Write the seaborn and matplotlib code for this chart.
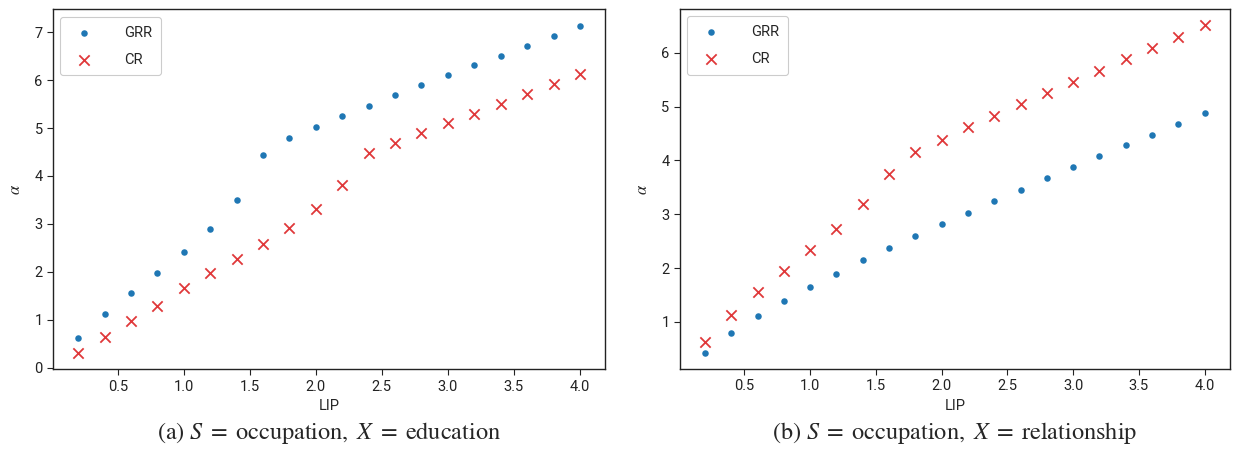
"""Side-by-side scatter of alpha vs. LIP for GRR and CR, two attribute pairs."""
import matplotlib
matplotlib.use("Agg")
import matplotlib.pyplot as plt
import pandas as pd
import seaborn as sns

LIP = [0.2, 0.4, 0.6, 0.8, 1.0, 1.2, 1.4, 1.6, 1.8, 2.0,
       2.2, 2.4, 2.6, 2.8, 3.0, 3.2, 3.4, 3.6, 3.8, 4.0]

# (a) S = occupation, X = education
GRR_A = [0.62, 1.12, 1.56, 1.97, 2.41, 2.90, 3.49, 4.43, 4.79, 5.02,
         5.25, 5.46, 5.69, 5.90, 6.10, 6.31, 6.51, 6.71, 6.92, 7.13]
CR_A = [0.31, 0.65, 0.97, 1.30, 1.66, 1.97, 2.28, 2.59, 2.92, 3.31,
        3.81, 4.48, 4.69, 4.89, 5.10, 5.30, 5.51, 5.71, 5.92, 6.12]

# (b) S = occupation, X = relationship
GRR_B = [0.43, 0.80, 1.11, 1.39, 1.64, 1.89, 2.15, 2.38, 2.59, 2.81,
         3.03, 3.25, 3.46, 3.67, 3.88, 4.08, 4.29, 4.47, 4.68, 4.88]
CR_B = [0.63, 1.13, 1.55, 1.94, 2.33, 2.72, 3.19, 3.74, 4.15, 4.38,
        4.62, 4.82, 5.05, 5.26, 5.46, 5.67, 5.88, 6.09, 6.30, 6.51]

CAPTIONS = [r"(a) $S\;=\;$occupation, $\,X\;=\;$education",
            r"(b) $S\;=\;$occupation, $\,X\;=\;$relationship"]

BLUE = "#1f77b4"
RED = "#e0383a"

sns.set_theme(style="ticks")
plt.rcParams["font.family"] = ["Roboto", "DejaVu Sans"]
plt.rcParams["mathtext.fontset"] = "stix"

fig = plt.figure(figsize=(12.33, 4.51), dpi=100)
axes = [fig.add_axes([0.043, 0.181, 0.4477, 0.798]),
        fig.add_axes([0.5515, 0.182, 0.4457, 0.798])]

panels = [(GRR_A, CR_A), (GRR_B, CR_B)]
for ax, (grr, cr), caption in zip(axes, panels, CAPTIONS):
    df = pd.DataFrame({"LIP": LIP, "GRR": grr, "CR": cr})
    sns.scatterplot(data=df, x="LIP", y="GRR", ax=ax, color=BLUE,
                    marker="o", s=22, linewidth=0, label="GRR")
    sns.scatterplot(data=df, x="LIP", y="CR", ax=ax, color=RED,
                    marker="x", s=55, linewidth=1.3, label="CR")
    ax.set_xlabel("LIP", fontsize=10.5, labelpad=4)
    ax.set_ylabel(r"$\alpha$", fontsize=12, labelpad=8)
    ax.tick_params(labelsize=10.5, length=4, width=0.8, colors="#222222")
    ax.set_xticks([0.5, 1.0, 1.5, 2.0, 2.5, 3.0, 3.5, 4.0])
    for sp in ax.spines.values():
        sp.set_linewidth(1.0)
        sp.set_color("#222222")
    leg = ax.legend(loc="upper left", fontsize=10.5, handletextpad=1.8,
                    borderpad=0.6, labelspacing=0.9, frameon=True,
                    fancybox=True, edgecolor="#cccccc", framealpha=1)
    leg.get_frame().set_linewidth(0.8)
    ax.text(0.5, -0.178, caption, transform=ax.transAxes, ha="center",
            va="center", fontsize=17.5, family="STIXGeneral")

fig.savefig("out.png", dpi=100)
